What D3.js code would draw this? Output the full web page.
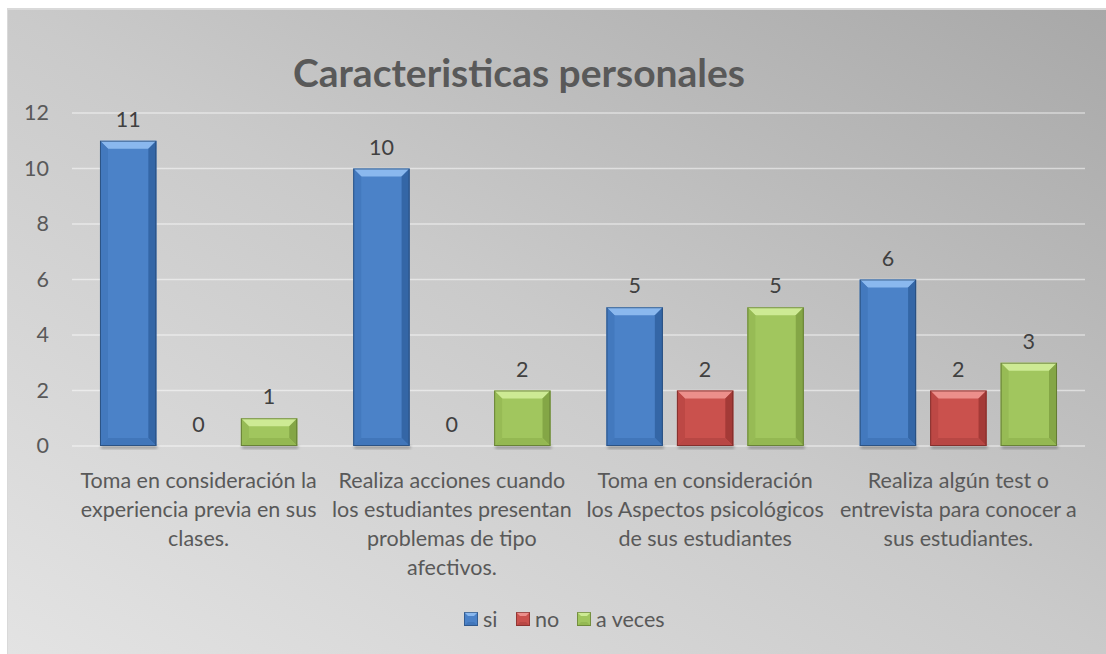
<!DOCTYPE html>
<html>
<head>
<meta charset="utf-8">
<script src="https://cdn.jsdelivr.net/npm/d3@7"></script>
<style>
  html, body { margin: 0; padding: 0; background: #fff; }
  svg { display: block; font-family: Lato, "Open Sans", sans-serif; }
</style>
</head>
<body>
<div id="chart"></div>
<script>
const categories = [
  ["Toma en consideración la", "experiencia previa en sus", "clases."],
  ["Realiza acciones cuando", "los estudiantes presentan", "problemas de tipo", "afectivos."],
  ["Toma en consideración", "los Aspectos psicológicos", "de sus estudiantes"],
  ["Realiza algún test o", "entrevista para conocer a", "sus estudiantes."]
];
const seriesNames = ["si", "no", "a veces"];
const siValues = [11, 10, 5, 6];
const noValues = [0, 0, 2, 2];
const aVecesValues = [1, 2, 5, 3];
const yTicks = [0, 2, 4, 6, 8, 10, 12];

const palette = {
  si: { main: "#4b82c8", top: "#8ab8ee", left: "#4379be", right: "#3466a6", bottom: "#4176ba", edge: "#24446e" },
  no: { main: "#ca514d", top: "#ec8f8b", left: "#bd4845", right: "#a43a37", bottom: "#b84744", edge: "#6e2624" },
  "a veces": { main: "#a1c65e", top: "#cdea94", left: "#97bb55", right: "#84a646", bottom: "#94b852", edge: "#566b2c" }
};

const W = 1106, H = 654;
const margin = { top: 113, right: 21, bottom: 208, left: 72 };
const width = W - margin.left - margin.right;
const height = H - margin.top - margin.bottom;
const fs = 21.5;

const rows = categories.map((c, i) => ({
  label: c,
  values: [siValues[i], noValues[i], aVecesValues[i]]
}));

const svg = d3.select("#chart").append("svg").attr("width", W).attr("height", H);
const defs = svg.append("defs");

const bg = defs.append("linearGradient").attr("id", "bg")
  .attr("x1", 1).attr("y1", 0).attr("x2", 0).attr("y2", 1);
bg.append("stop").attr("offset", 0).attr("stop-color", "#a8a8a8");
bg.append("stop").attr("offset", 0.5).attr("stop-color", "#cacaca");
bg.append("stop").attr("offset", 1).attr("stop-color", "#e3e3e3");

defs.append("filter").attr("id", "blur").append("feGaussianBlur").attr("stdDeviation", 1.5);

// marco
svg.append("rect").attr("x", 7).attr("y", 8).attr("width", W - 7).attr("height", H - 8)
  .attr("fill", "#d9d9d9");
svg.append("rect").attr("x", 8).attr("y", 10).attr("width", W - 8).attr("height", H - 10)
  .attr("fill", "url(#bg)");

svg.append("text")
  .attr("x", 519).attr("y", 87)
  .attr("text-anchor", "middle")
  .attr("font-size", 39).attr("font-weight", 700)
  .attr("fill", "#595959")
  .text("Caracteristicas personales");

const g = svg.append("g").attr("transform", `translate(${margin.left},${margin.top})`);

const x0 = d3.scaleBand().domain(d3.range(categories.length)).range([0, width])
  .paddingInner(0.221).paddingOuter(0.1105);
const x1 = d3.scaleBand().domain(seriesNames).range([0, x0.bandwidth()])
  .paddingInner(0.2).paddingOuter(0);
const y = d3.scaleLinear().domain([0, 12]).range([height, 0]);

// lineas de cuadricula
g.append("g").selectAll("line").data(yTicks).join("line")
  .attr("x1", 0).attr("x2", width)
  .attr("y1", (d) => y(d)).attr("y2", (d) => y(d))
  .attr("stroke", "rgba(255,255,255,0.5)").attr("stroke-width", 1.6);

// eje y
const yAxis = g.append("g").call(d3.axisLeft(y).tickValues(yTicks).tickSize(0).tickPadding(23));
yAxis.select(".domain").remove();
yAxis.selectAll("text").attr("font-size", fs).attr("fill", "#595959")
  .attr("font-family", "Lato, 'Open Sans', sans-serif");

function bevelBar(sel, x, yTop, w, h, c) {
  if (h <= 0) return;
  const b = Math.min(8, h / 2, w / 2);
  const x2 = x + w, y2 = yTop + h;
  const pts = (a) => a.map((p) => p.join(",")).join(" ");
  sel.append("rect").attr("x", x + 1).attr("y", y2 - 1).attr("width", w).attr("height", 4)
    .attr("fill", "rgba(0,0,0,0.25)").attr("filter", "url(#blur)");
  sel.append("rect").attr("x", x).attr("y", yTop).attr("width", w).attr("height", h).attr("fill", c.main);
  sel.append("polygon").attr("points", pts([[x, yTop], [x2, yTop], [x2 - b, yTop + b], [x + b, yTop + b]])).attr("fill", c.top);
  sel.append("polygon").attr("points", pts([[x, yTop], [x + b, yTop + b], [x + b, y2 - b], [x, y2]])).attr("fill", c.left);
  sel.append("polygon").attr("points", pts([[x2, yTop], [x2, y2], [x2 - b, y2 - b], [x2 - b, yTop + b]])).attr("fill", c.right);
  sel.append("polygon").attr("points", pts([[x, y2], [x + b, y2 - b], [x2 - b, y2 - b], [x2, y2]])).attr("fill", c.bottom);
  sel.append("rect").attr("x", x + 0.5).attr("y", yTop + 0.5).attr("width", w - 1).attr("height", h - 1)
    .attr("fill", "none").attr("stroke", c.edge).attr("stroke-width", 1).attr("stroke-opacity", 0.7);
}

const groups = g.selectAll(".grp").data(rows).join("g")
  .attr("class", "grp")
  .attr("transform", (d, i) => `translate(${x0(i)},0)`);

groups.each(function (d) {
  const grp = d3.select(this);
  d.values.forEach((v, k) => {
    const s = seriesNames[k];
    bevelBar(grp, x1(s), y(v), x1.bandwidth(), y(0) - y(v), palette[s]);
    grp.append("text")
      .attr("x", x1(s) + x1.bandwidth() / 2)
      .attr("y", y(v) - 14)
      .attr("text-anchor", "middle")
      .attr("font-size", fs).attr("fill", "#404040")
      .text(v);
  });
});

// etiquetas de categoria
const catText = g.selectAll(".cat").data(rows).join("text")
  .attr("class", "cat")
  .attr("text-anchor", "middle")
  .attr("font-size", fs).attr("fill", "#595959");
catText.each(function (d, i) {
  const t = d3.select(this);
  const cx = x0(i) + x0.bandwidth() / 2;
  d.label.forEach((line, j) => {
    t.append("tspan").attr("x", cx).attr("y", height + 42 + j * 29).text(line);
  });
});

// leyenda
const legendItems = [
  { name: "si", x: 464 },
  { name: "no", x: 516 },
  { name: "a veces", x: 577 }
];
const legend = svg.append("g");
legendItems.forEach((it) => {
  const lg = legend.append("g");
  bevelBarSmall(lg, it.x, 612, 14, 14, palette[it.name]);
  lg.append("text").attr("x", it.x + 19).attr("y", 627)
    .attr("font-size", fs).attr("fill", "#595959").text(it.name);
});

function bevelBarSmall(sel, x, yTop, w, h, c) {
  const b = 4;
  const x2 = x + w, y2 = yTop + h;
  const pts = (a) => a.map((p) => p.join(",")).join(" ");
  sel.append("rect").attr("x", x).attr("y", yTop).attr("width", w).attr("height", h).attr("fill", c.main);
  sel.append("polygon").attr("points", pts([[x, yTop], [x2, yTop], [x2 - b, yTop + b], [x + b, yTop + b]])).attr("fill", c.top);
  sel.append("polygon").attr("points", pts([[x, y2], [x + b, y2 - b], [x2 - b, y2 - b], [x2, y2]])).attr("fill", c.bottom);
  sel.append("rect").attr("x", x + 0.5).attr("y", yTop + 0.5).attr("width", w - 1).attr("height", h - 1)
    .attr("fill", "none").attr("stroke", c.edge).attr("stroke-opacity", 0.6);
}
</script>
</body>
</html>
